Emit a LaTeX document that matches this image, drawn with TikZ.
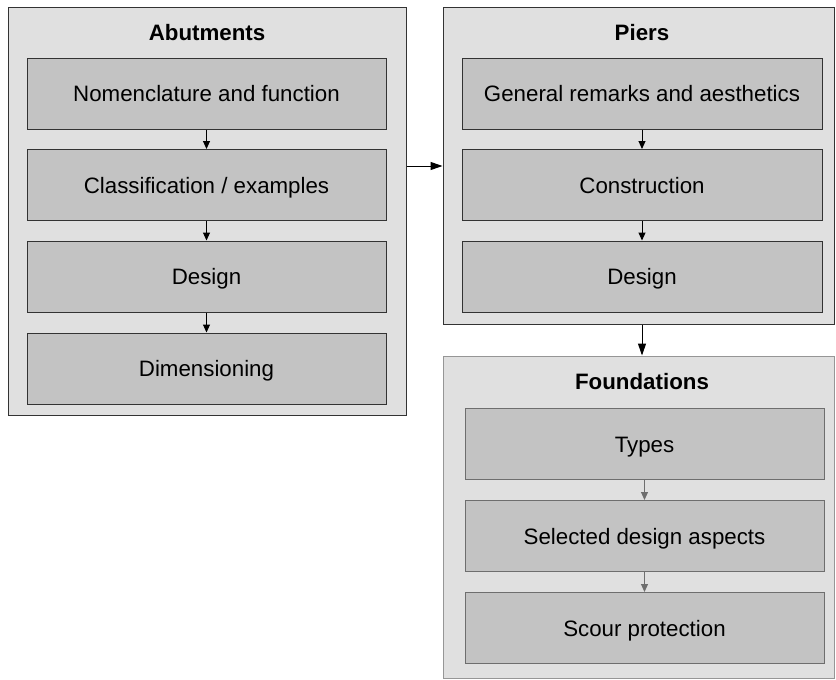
\documentclass[tikz,border=0pt]{standalone}
\usepackage{fontspec}
\setmainfont{Liberation Sans}
\usetikzlibrary{arrows.meta}
\definecolor{outerfill}{RGB}{224,224,224}
\definecolor{innerfill}{RGB}{195,195,195}
\definecolor{darkline}{RGB}{51,51,51}
\definecolor{midline}{RGB}{110,110,110}
\definecolor{lightline}{RGB}{150,150,150}
\tikzset{
  group/.style={draw=darkline, fill=outerfill, line width=1pt, inner sep=0pt},
  item/.style={draw=darkline, fill=innerfill, line width=1pt, minimum width=359pt, minimum height=71pt, inner sep=0pt, font=\fontsize{22.3}{26}\selectfont, text height=16pt, text depth=0pt},
  title/.style={font=\fontsize{22.3}{26}\selectfont\bfseries, inner sep=0pt, text height=16pt, text depth=0pt},
  flow/.style={draw=black, line width=1pt, -{Triangle[length=8pt,width=7pt]}},
  bigflow/.style={draw=black, line width=1pt, -{Triangle[length=12pt,width=8pt]}},
  grayflow/.style={draw=midline, line width=1pt, -{Triangle[length=8pt,width=7pt]}}
}
\begin{document}
\begin{tikzpicture}[x=1pt,y=-1pt]
\useasboundingbox (0,0) rectangle (836,680);
\fill[white] (0,0) rectangle (836,680);
% groups
\node[group, minimum width=398pt, minimum height=408pt] (abut) at (207,211) {};
\node[group, minimum width=391pt, minimum height=317pt] (piers) at (638.5,165.5) {};
\node[group, draw=lightline, minimum width=391pt, minimum height=322pt] (found) at (638.5,517) {};
% titles
\node[title] (tabut) at (207,32) {Abutments};
\node[title] (tpiers) at (642,32) {Piers};
\node[title] (tfound) at (642,381) {Foundations};
% abutments items
\node[item] (a1) at (206.5,93.5) {Nomenclature and function};
\node[item] (a2) at (206.5,185) {Classification / examples};
\node[item] (a3) at (206.5,276.5) {Design};
\node[item] (a4) at (206.5,368.5) {Dimensioning};
% piers items
\node[item, minimum width=360pt] (p1) at (642,93.5) {General remarks and aesthetics};
\node[item, minimum width=360pt] (p2) at (642,185) {Construction};
\node[item, minimum width=360pt] (p3) at (642,276.5) {Design};
% foundations items
\node[item, draw=midline] (f1) at (644.5,444) {Types};
\node[item, draw=midline] (f2) at (644.5,536) {Selected design aspects};
\node[item, draw=midline] (f3) at (644.5,628) {Scour protection};
% arrows
\draw[flow] (a1) -- (a2);
\draw[flow] (a2) -- (a3);
\draw[flow] (a3) -- (a4);
\draw[flow] (p1) -- (p2);
\draw[flow] (p2) -- (p3);
\draw[grayflow] (f1) -- (f2);
\draw[grayflow] (f2) -- (f3);
\draw[bigflow] (abut.east |- 0,166) -- (piers.west |- 0,166);
\draw[bigflow] (piers.south -| 642,0) -- (found.north -| 642,0);
\end{tikzpicture}
\end{document}
